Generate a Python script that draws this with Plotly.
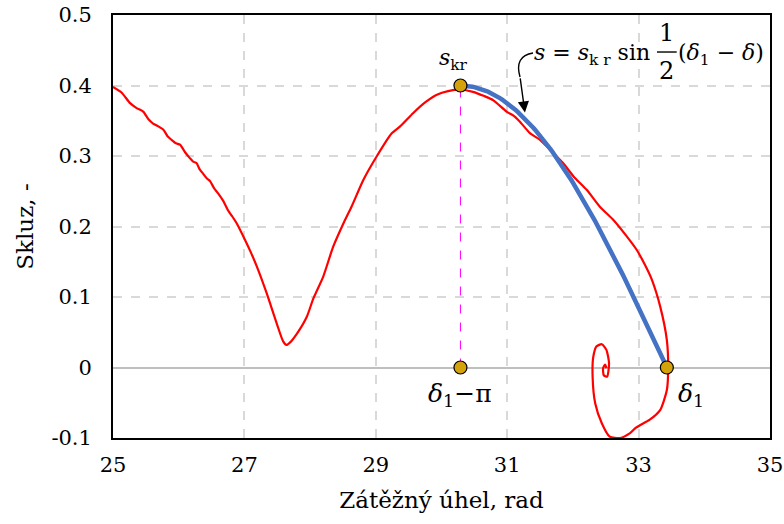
import numpy as np
import plotly.graph_objects as go

# Red trajectory (load angle, slip)
red_x = [25.00, 25.13, 25.26, 25.36, 25.46, 25.54, 25.61, 25.69, 25.77, 25.83, 25.89, 25.96, 26.02, 26.10,
         26.17, 26.22, 26.27, 26.32, 26.37, 26.43, 26.48, 26.54, 26.60, 26.68, 26.75, 26.81, 26.88, 27.01,
         27.10, 27.19, 27.34, 27.49, 27.59, 27.64, 27.70, 27.80, 27.95, 28.05, 28.20, 28.35, 28.51, 28.63,
         28.81, 29.01, 29.24, 29.37, 29.57, 29.75, 29.93, 30.10, 30.28, 30.48, 30.65, 30.79, 30.99, 31.10,
         31.19, 31.35, 31.50, 31.65, 31.85, 32.01, 32.21, 32.41, 32.62, 32.82, 32.97, 33.10, 33.20, 33.33,
         33.43, 33.45, 33.43, 33.33, 33.17, 33.02, 32.95, 32.87, 32.72, 32.56, 32.44, 32.34, 32.30, 32.31,
         32.36, 32.44, 32.51, 32.55, 32.52, 32.47, 32.46, 32.49, 32.51]
red_y = [0.398, 0.390, 0.375, 0.368, 0.363, 0.352, 0.346, 0.342, 0.337, 0.328, 0.323, 0.318, 0.316, 0.305,
         0.297, 0.292, 0.290, 0.281, 0.275, 0.268, 0.264, 0.254, 0.247, 0.236, 0.223, 0.215, 0.205, 0.181,
         0.163, 0.143, 0.105, 0.063, 0.037, 0.032, 0.036, 0.048, 0.072, 0.098, 0.129, 0.171, 0.205, 0.228,
         0.266, 0.299, 0.332, 0.342, 0.361, 0.376, 0.387, 0.392, 0.394, 0.391, 0.385, 0.379, 0.363, 0.357,
         0.349, 0.332, 0.323, 0.309, 0.290, 0.271, 0.252, 0.228, 0.209, 0.186, 0.167, 0.145, 0.125, 0.086,
         0.039, -0.001, -0.032, -0.060, -0.074, -0.082, -0.086, -0.093, -0.100, -0.098, -0.079, -0.051,
         -0.013, 0.015, 0.030, 0.033, 0.025, 0.006, -0.013, -0.011, -0.001, 0.004, -0.001]

# Key values
s_kr = 0.40
delta1 = 33.43

# Axis ticks
x_ticks = [25, 27, 29, 31, 33, 35]
y_ticks = [-0.1, 0, 0.1, 0.2, 0.3, 0.4, 0.5]
y_tick_labels = ["-0.1", "0", "0.1", "0.2", "0.3", "0.4", "0.5"]

blue_x = np.linspace(delta1 - np.pi, delta1, 120)
blue_y = s_kr * np.sin(0.5 * (delta1 - blue_x))

FONT = "DejaVu Serif, serif"
fig = go.Figure()

fig.add_trace(go.Scatter(x=red_x, y=red_y, mode="lines",
                         line=dict(color="#ff0000", width=2.2, shape="spline", smoothing=0.6),
                         hoverinfo="skip", showlegend=False))
fig.add_trace(go.Scatter(x=blue_x, y=blue_y, mode="lines",
                         line=dict(color="#4472c4", width=4.5), showlegend=False))
fig.add_trace(go.Scatter(x=[delta1 - np.pi, delta1 - np.pi], y=[0, s_kr], mode="lines",
                         line=dict(color="#ff00ff", width=1, dash="dash"), showlegend=False))
fig.add_trace(go.Scatter(x=[delta1 - np.pi, delta1 - np.pi, delta1], y=[s_kr, 0, 0], mode="markers",
                         marker=dict(size=13, color="#d4a20a", line=dict(color="black", width=1.2)),
                         showlegend=False))

lab_font = dict(family=FONT, size=22, color="black")
f_font = dict(family=FONT, size=22, color="black")
n_font = dict(family=FONT, size=24, color="black")
anns = [
    dict(x=delta1 - np.pi - 0.1, y=0.437, text="<i>s</i><sub>kr</sub>", showarrow=False, font=lab_font,
         xanchor="center", yanchor="middle"),
    dict(x=delta1 - np.pi, y=-0.039, text="<i>δ</i><sub>1</sub>−π", showarrow=False,
         font=dict(family=FONT, size=25, color="black"), xanchor="center", yanchor="middle"),
    dict(x=33.57, y=-0.039, text="<i>δ</i><sub>1</sub>", showarrow=False,
         font=dict(family=FONT, size=25, color="black"), xanchor="left", yanchor="middle"),
    dict(x=33.20, y=0.4433, text="<i>s</i> = <i>s</i><sub>k r</sub> sin", showarrow=False, font=f_font,
         xanchor="right", yanchor="middle"),
    dict(x=33.43, y=0.4740, text="1", showarrow=False, font=n_font, xanchor="center", yanchor="middle"),
    dict(x=33.43, y=0.4205, text="2", showarrow=False, font=n_font, xanchor="center", yanchor="middle"),
    dict(x=33.57, y=0.4433, text="(<i>δ</i><sub>1</sub> − <i>δ</i>)", showarrow=False, font=f_font,
         xanchor="left", yanchor="middle"),
    dict(x=31.27, y=0.3617, ax=31.195, ay=0.4121, axref="x", ayref="y", xref="x", yref="y", text="",
         showarrow=True, arrowhead=2, arrowsize=1.6, arrowwidth=1.4, arrowcolor="black"),
]
for a in anns:
    a.setdefault("xref", "x")
    a.setdefault("yref", "y")
    fig.add_annotation(**a)

fig.add_shape(type="line", x0=33.28, x1=33.58, y0=0.4475, y1=0.4475, xref="x", yref="y",
              line=dict(color="black", width=1.4))
fig.add_shape(type="path", path="M 31.393,0.4461 Q 31.104,0.4418 31.195,0.4121", xref="x", yref="y",
              line=dict(color="black", width=1.4))

fig.update_layout(
    width=784, height=524,
    margin=dict(l=113, r=14, t=15, b=86, autoexpand=False),
    plot_bgcolor="white", paper_bgcolor="white",
    font=dict(family=FONT, size=21, color="black"),
    xaxis=dict(range=[25, 35], tickvals=x_ticks, showgrid=True, gridcolor="#d9d9d9", griddash="dash",
               gridwidth=1.6, zeroline=False, showline=True, linecolor="black", linewidth=1.8, mirror=True,
               ticks="", automargin=False, ticklabelstandoff=7,
               title=dict(text="Zátěžný úhel, rad", font=dict(family=FONT, size=23), standoff=16),
               tickfont=dict(family=FONT, size=21)),
    yaxis=dict(range=[-0.1, 0.5], tickvals=y_ticks, ticktext=y_tick_labels, showgrid=True,
               gridcolor="#d9d9d9", griddash="dash", gridwidth=1.6, zeroline=True, zerolinecolor="#bfbfbf",
               zerolinewidth=1.6, showline=True, linecolor="black", linewidth=1.8, mirror=True, ticks="",
               automargin=False, ticklabelstandoff=15,
               title=dict(text="Skluz, -", font=dict(family=FONT, size=23), standoff=11),
               tickfont=dict(family=FONT, size=21)),
)

fig.write_html("out.html")
